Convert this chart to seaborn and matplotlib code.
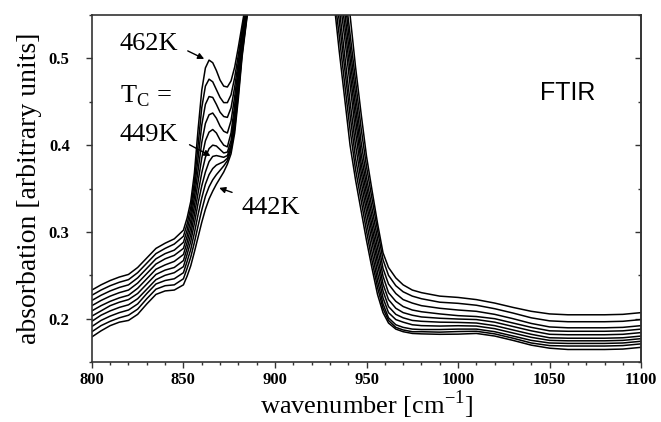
import numpy as np
import pandas as pd
import matplotlib
matplotlib.use("Agg")
from matplotlib import pyplot as plt
from matplotlib.ticker import MultipleLocator, NullFormatter
import seaborn as sns

# wavenumber knots (cm^-1)
wavenumber = [800, 805, 810, 815, 820, 825, 830, 835, 840, 845,
              850, 852, 854, 856, 858, 860, 862, 864, 866, 868, 870, 872, 874,
              876, 878, 880, 882, 885, 888,
              932, 935, 938, 941, 944, 947, 950, 953, 956, 959,
              962, 966, 970, 975, 980,
              990, 1000, 1010, 1020, 1030, 1040, 1050, 1060, 1070, 1080, 1090, 1100]

# absorbance of each spectrum, top (462K) to bottom (442K)
c0 = [.233, .239, .244, .248, .251, .259, .270, .281, .287, .292,
      .302, .316, .335, .368, .418, .463, .489, .498, .495, .486, .475, .468, .467,
      .474, .490, .513, .538, .575, .62,
      .700, .640, .595, .550, .490, .437, .387, .348, .310, .276,
      .259, .247, .239, .233, .230,
      .226, .2245, .222, .218, .213, .2085, .2055, .2045, .2045, .2045, .205, .207]
c1 = [.227, .233, .238, .242, .245, .253, .264, .275, .281, .286,
      .295, .309, .328, .358, .400, .443, .468, .476, .473, .464, .455, .449, .449,
      .458, .478, .504, .532, .571, .62,
      .680, .630, .582, .528, .474, .420, .375, .338, .302, .268,
      .250, .238, .231, .226, .223,
      .219, .2177, .2155, .2115, .2065, .201, .1975, .1965, .1965, .1965, .197, .199]
c2 = [.221, .227, .232, .236, .239, .247, .258, .269, .275, .279,
      .288, .302, .321, .349, .385, .423, .447, .456, .455, .447, .438, .433, .432,
      .443, .467, .496, .527, .568, .62,
      .660, .620, .572, .514, .459, .404, .363, .327, .292, .258,
      .240, .229, .222, .218, .215,
      .212, .210, .2085, .205, .200, .1945, .1905, .1895, .1895, .1895, .190, .192]
c3 = [.215, .221, .226, .230, .233, .241, .252, .263, .269, .273,
      .281, .295, .313, .340, .371, .403, .425, .435, .437, .431, .422, .416, .414,
      .428, .456, .489, .522, .565, .62,
      .640, .605, .555, .500, .444, .391, .353, .317, .282, .249,
      .230, .220, .214, .210, .208,
      .2055, .2035, .2025, .200, .195, .190, .186, .1855, .1855, .1855, .186, .188]
c4 = [.209, .215, .220, .224, .227, .235, .246, .257, .262, .266,
      .274, .288, .305, .330, .358, .385, .405, .415, .418, .414, .406, .400, .398,
      .414, .446, .482, .517, .562, .62,
      .620, .590, .540, .485, .430, .380, .343, .307, .272, .240,
      .222, .212, .207, .204, .202,
      .2005, .1996, .199, .196, .191, .186, .182, .1815, .1815, .1815, .182, .184]
c5 = [.203, .209, .215, .219, .222, .229, .240, .251, .256, .259,
      .267, .281, .297, .320, .345, .368, .386, .396, .400, .399, .395, .391, .392,
      .405, .438, .476, .513, .560, .62,
      .610, .575, .525, .470, .415, .370, .333, .298, .263, .232,
      .214, .205, .201, .198, .197,
      .196, .1957, .195, .192, .187, .182, .178, .1775, .1775, .1775, .178, .180]
c6 = [.197, .204, .209, .213, .216, .223, .234, .245, .250, .253,
      .260, .274, .289, .310, .333, .353, .369, .381, .387, .388, .387, .386, .388,
      .400, .430, .470, .510, .558, .62,
      .600, .560, .505, .450, .400, .359, .323, .288, .253, .224,
      .207, .199, .196, .193, .192,
      .1915, .1919, .1915, .1885, .1835, .1785, .175, .1745, .1745, .1745, .175, .177]
c7 = [.191, .198, .203, .207, .210, .217, .229, .240, .244, .246,
      .253, .266, .280, .299, .320, .339, .355, .366, .373, .377, .379, .381, .385,
      .397, .424, .464, .507, .556, .62,
      .590, .545, .490, .435, .385, .348, .312, .277, .244, .217,
      .201, .193, .190, .188, .1875,
      .1875, .188, .188, .185, .180, .175, .172, .1715, .1715, .1715, .172, .174]
c8 = [.185, .192, .197, .201, .204, .211, .223, .234, .238, .239,
      .246, .258, .271, .288, .307, .325, .341, .352, .360, .366, .371, .376, .382,
      .394, .419, .459, .504, .554, .62,
      .580, .528, .472, .418, .372, .337, .301, .267, .236, .212,
      .198, .190, .187, .185, .185,
      .1845, .1852, .1855, .1825, .1775, .172, .169, .1685, .1685, .1685, .169, .171]
c9 = [.179, .186, .192, .196, .198, .205, .217, .228, .232, .233,
      .239, .249, .261, .277, .294, .311, .326, .338, .347, .355, .362, .369, .378,
      .390, .414, .454, .501, .552, .62,
      .570, .510, .455, .400, .360, .325, .290, .258, .228, .207,
      .195, .188, .185, .183, .1825,
      .182, .1822, .183, .180, .175, .1695, .166, .1645, .1645, .1645, .165, .167]
spectra = [c0, c1, c2, c3, c4, c5, c6, c7, c8, c9]

# long format table for seaborn
df = pd.concat([pd.DataFrame({"wavenumber": wavenumber, "absorbance": s, "curve": i})
                for i, s in enumerate(spectra)], ignore_index=True)

sns.set_theme(style="ticks")
plt.rcParams["font.family"] = ["Liberation Serif", "DejaVu Serif"]
plt.rcParams["mathtext.fontset"] = "custom"
plt.rcParams["mathtext.rm"] = "Liberation Serif"
plt.rcParams["text.color"] = "black"
plt.rcParams["axes.labelcolor"] = "black"
plt.rcParams["xtick.labelcolor"] = "black"
plt.rcParams["ytick.labelcolor"] = "black"

fig = plt.figure(figsize=(6.61, 4.22), dpi=100)
ax = fig.add_axes([0.139, 0.142, 0.831, 0.8225])

sns.lineplot(data=df, x="wavenumber", y="absorbance", hue="curve",
             palette=["black"] * len(spectra), estimator=None, sort=False,
             legend=False, linewidth=1.1, ax=ax)

ax.set_xlim(800, 1100)
ax.set_ylim(0.15, 0.55)
ax.xaxis.set_major_locator(MultipleLocator(50))
ax.xaxis.set_minor_locator(MultipleLocator(10))
ax.yaxis.set_major_locator(MultipleLocator(0.1))
ax.yaxis.set_minor_locator(MultipleLocator(0.05))
ax.tick_params(which="both", direction="out", color="#333333", width=1.0,
               labelcolor="black")
ax.tick_params(which="major", length=4)
ax.tick_params(which="minor", length=2.5)
ax.tick_params(axis="y", pad=12)
for lab in ax.get_xticklabels() + ax.get_yticklabels():
    lab.set_fontweight("bold")
    lab.set_fontsize(12)
for sp in ax.spines.values():
    sp.set_linewidth(1.2)
    sp.set_color("#333333")

# inward ticks on the right frame
right = ax.secondary_yaxis("right")
right.yaxis.set_major_locator(MultipleLocator(0.1))
right.yaxis.set_minor_locator(MultipleLocator(0.05))
right.yaxis.set_major_formatter(NullFormatter())
right.tick_params(which="both", direction="in", color="#333333", width=1.0)
right.tick_params(which="major", length=4)
right.tick_params(which="minor", length=2.5)
right.spines["right"].set_linewidth(1.2)
right.spines["right"].set_color("#333333")

ax.set_xlabel("wavenumber [cm$^{-1}$]", fontsize=19, labelpad=0, color="black")
ax.set_ylabel("absorbation [arbitrary units]", fontsize=20, labelpad=5, color="black")

# annotations
arrow = dict(arrowstyle="-|>", color="black", lw=1.0, mutation_scale=9)
ax.text(831, 0.5168, "462K", fontsize=19, ha="center", va="center", color="black")
ax.annotate("", xy=(862.7, 0.498), xytext=(851, 0.510), arrowprops=arrow)
ax.text(815.3, 0.456, "T$_\\mathrm{C}$ =", fontsize=19, ha="left", va="center", color="black")
ax.text(815.3, 0.4116, "449K", fontsize=19, ha="left", va="center", color="black")
ax.annotate("", xy=(866.1, 0.386), xytext=(852, 0.402), arrowprops=arrow)
ax.text(881.8, 0.3277, "442K", fontsize=19, ha="left", va="center", color="black")
ax.annotate("", xy=(868.1, 0.3518), xytext=(878, 0.3445), arrowprops=arrow)
ax.text(1060, 0.460, "FTIR", fontsize=18, ha="center", va="center", color="black",
        family=["Liberation Sans", "DejaVu Sans"])

fig.savefig("out.png", dpi=100)
